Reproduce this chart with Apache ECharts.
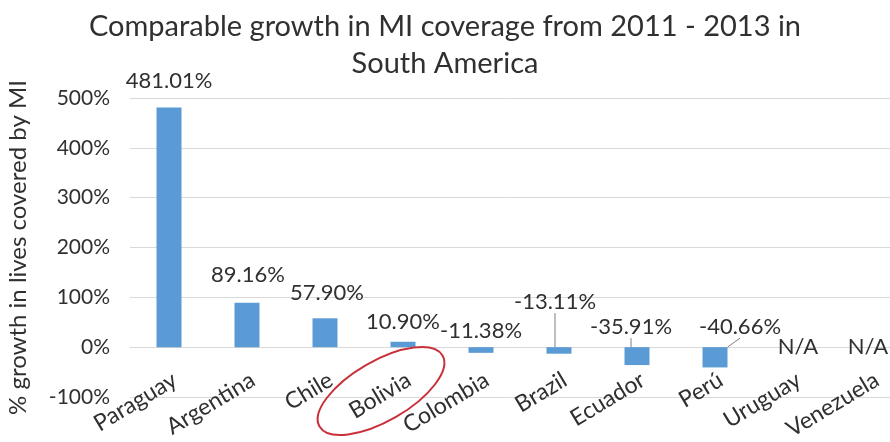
<!DOCTYPE html>
<html>
<head>
<meta charset="utf-8">
<script src="https://cdn.jsdelivr.net/npm/echarts@6/dist/echarts.min.js"></script>
<style>
  html, body { margin: 0; padding: 0; background: #ffffff; overflow: hidden; }
  #chart { width: 890px; height: 442px; }
</style>
</head>
<body>
<div id="chart"></div>
<script>
// Growth in lives covered by micro-insurance, 2011 -> 2013
const countries = ['Paraguay', 'Argentina', 'Chile', 'Bolivia', 'Colombia', 'Brazil', 'Ecuador', 'Perú', 'Uruguay', 'Venezuela'];
const growthPct = [481.01, 89.16, 57.90, 10.90, -11.38, -13.11, -35.91, -40.66, null, null];
const yTicks = [-100, 0, 100, 200, 300, 400, 500];
const highlighted = 'Bolivia';

// small hand-placed nudges for data labels [dx, dy]
const labelNudge = [[0, -2], [1, -3], [2, 0], [0, 5], [0, 9], [-4, -20], [-6, 5], [25, 5], [5, 0], [-3, 0]];
const guided = ['Brazil', 'Ecuador', 'Perú'];

const FONT = 'Lato, "Open Sans", sans-serif';
const TEXT = '#303030';

const barData = growthPct.map((v, i) => {
  if (v === null) {
    return {
      value: 0,
      label: { formatter: 'N/A', position: 'inside', color: TEXT }
    };
  }
  const item = { value: v };
  if (guided.indexOf(countries[i]) >= 0) {
    item.labelLine = { show: true, lineStyle: { color: '#7f7f7f', width: 1 } };
  }
  return item;
});

const chart = echarts.init(document.getElementById('chart'), null, { renderer: 'canvas' });

chart.setOption({
  animation: false,
  backgroundColor: '#ffffff',
  textStyle: { fontFamily: FONT },
  title: {
    text: 'Comparable growth in MI coverage from 2011 - 2013 in\nSouth America',
    left: 'center',
    top: 3,
    textStyle: { fontFamily: FONT, fontSize: 29, fontWeight: 'normal', color: TEXT, lineHeight: 37 }
  },
  grid: { left: 130, right: -20, top: 98, bottom: 45, containLabel: false, outerBoundsMode: 'none' },
  xAxis: {
    type: 'category',
    data: countries,
    position: 'bottom',
    axisLine: { show: true, onZero: false, lineStyle: { color: '#d9d9d9', width: 1 } },
    axisTick: { show: false },
    axisLabel: {
      interval: 0, rotate: 31, margin: 21, fontSize: 23, color: TEXT, fontFamily: FONT,
      align: 'right', verticalAlign: 'top'
    }
  },
  yAxis: {
    type: 'value',
    min: yTicks[0],
    max: yTicks[yTicks.length - 1],
    interval: yTicks[1] - yTicks[0],
    name: '% growth in lives covered by MI',
    nameLocation: 'middle',
    nameGap: 100,
    nameTextStyle: { fontSize: 24, color: TEXT, fontFamily: FONT },
    axisLine: { show: false },
    axisTick: { show: false },
    axisLabel: { formatter: v => v + '%', fontSize: 21, color: TEXT, margin: 20, fontFamily: FONT },
    splitLine: { lineStyle: { color: '#d9d9d9', width: 1 } }
  },
  series: [{
    type: 'bar',
    data: barData,
    barWidth: 25,
    itemStyle: { color: '#5b9bd5' },
    label: {
      show: true,
      position: 'top',
      distance: 14,
      fontSize: 22,
      color: TEXT,
      fontFamily: FONT,
      formatter: p => p.value.toFixed(2) + '%'
    },
    labelLine: { show: false },
    labelLayout: p => ({ dx: labelNudge[p.dataIndex][0], dy: labelNudge[p.dataIndex][1] })
  }]
});

// lift the category axis so it crosses the value axis at 0%
const zeroY = chart.convertToPixel({ yAxisIndex: 0 }, 0);
const floorY = chart.convertToPixel({ yAxisIndex: 0 }, yTicks[0]);
chart.setOption({ xAxis: { offset: -(floorY - zeroY) } });

// red ring drawn around the highlighted country's axis label
const anchor = chart.convertToPixel({ xAxisIndex: 0, yAxisIndex: 0 }, [highlighted, yTicks[0]]);
chart.setOption({
  graphic: [{
    type: 'ellipse',
    x: anchor[0] - 22,
    y: anchor[1] - 6,
    rotation: 30 * Math.PI / 180,
    shape: { cx: 0, cy: 0, rx: 71, ry: 30 },
    style: { fill: 'none', stroke: '#c9303a', lineWidth: 2 },
    z: 100
  }]
});
</script>
</body>
</html>
